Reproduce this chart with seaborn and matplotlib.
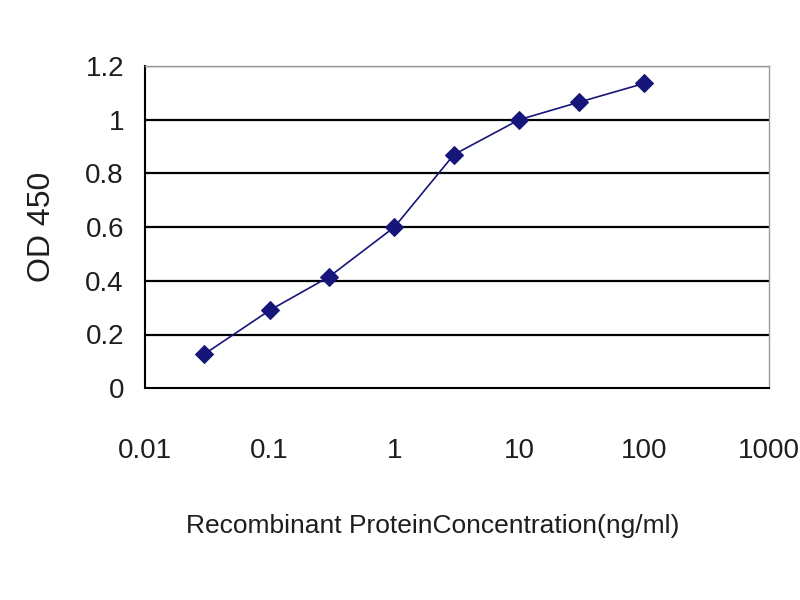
import numpy as np
import pandas as pd
import matplotlib
matplotlib.use("Agg")
import matplotlib.pyplot as plt
import seaborn as sns
from matplotlib.ticker import FixedLocator, FixedFormatter, NullLocator

# data
conc = [0.03, 0.1, 0.3, 1, 3, 10, 30, 100]
od450 = [0.127, 0.29, 0.415, 0.60, 0.87, 1.0, 1.065, 1.135]

x_ticks = [0.01, 0.1, 1, 10, 100, 1000]
x_labels = ["0.01", "0.1", "1", "10", "100", "1000"]
y_ticks = [0, 0.2, 0.4, 0.6, 0.8, 1.0, 1.2]
y_labels = ["0", "0.2", "0.4", "0.6", "0.8", "1", "1.2"]

df = pd.DataFrame({"conc": conc, "od": od450})

sns.set_style("white")
plt.rcParams['font.family'] = ['Liberation Sans', 'DejaVu Sans']

fig = plt.figure(figsize=(8, 6), dpi=100)
ax = fig.add_axes([0.181, 0.353, 0.78, 0.537])

for y in y_ticks[1:]:
    ax.axhline(y, color="black", lw=1.6, zorder=1)

sns.lineplot(data=df, x="conc", y="od", ax=ax, color="#16167a", lw=1.2,
             marker="D", markersize=9, markeredgecolor="#16167a", zorder=3)

ax.set_xscale("log")
ax.set_xlim(0.01, 1000)
ax.set_ylim(0, 1.2)
ax.xaxis.set_major_locator(FixedLocator(x_ticks))
ax.xaxis.set_major_formatter(FixedFormatter(x_labels))
ax.xaxis.set_minor_locator(NullLocator())
ax.set_yticks(y_ticks)
ax.set_yticklabels(y_labels)

ax.tick_params(axis="x", direction="in", length=6, width=1.2, color="black",
               labelsize=20, pad=36, labelcolor="#1e1e1e")
ax.tick_params(axis="y", direction="out", length=0, labelsize=20, pad=15,
               labelcolor="#1e1e1e")

for side in ["left", "bottom"]:
    ax.spines[side].set_color("black")
    ax.spines[side].set_linewidth(1.5)
for side in ["top", "right"]:
    ax.spines[side].set_color("#9a9a9a")
    ax.spines[side].set_linewidth(1.0)

ax.set_xlabel("Recombinant ProteinConcentration(ng/ml)", fontsize=19, color="#1e1e1e")
ax.xaxis.set_label_coords(0.462, -0.39)
ax.set_ylabel("OD 450", fontsize=23, color="#1e1e1e")
ax.yaxis.set_label_coords(-0.141, 0.5)

fig.savefig("out.png", dpi=100)
